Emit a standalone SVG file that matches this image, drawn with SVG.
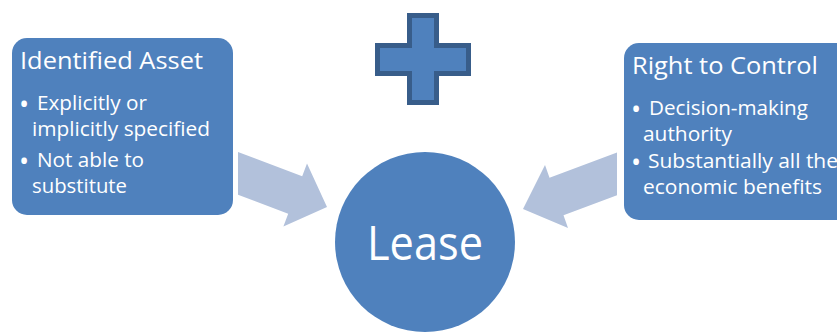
<svg xmlns="http://www.w3.org/2000/svg" width="837" height="335" viewBox="0 0 837 335">
<style>
.box{fill:#4f81bd;}
.arrow{fill:#b2c1db;}
.t{font-family:"Open Sans","Liberation Sans",sans-serif;fill:#ffffff;}
.title{font-size:23px;}
.bul{font-size:20.5px;}
.dot{font-size:27px;}
</style>
<rect width="837" height="335" fill="#ffffff"/>
<g id="connectors">
<polygon class="arrow" points="238,152 302.2,176.3 307,163.6 327,207 283.4,226.4 288.2,213.7 238,194.8"/>
<polygon class="arrow" points="617,152.6 549.5,177.8 545,165 523,209 568,228 563.5,215.2 617,195.2"/>
</g>
<g id="plus">
<path d="M409.5,15.5 H436.5 V45.5 H468.5 V73.5 H436.5 V102.5 H409.5 V73.5 H377.5 V45.5 H409.5 Z" fill="#4f81bd" stroke="#385d8a" stroke-width="5"/>
</g>
<g id="identified-asset">
<rect class="box" x="12" y="38" width="221" height="177" rx="15"/>
<text class="t title" x="20" y="69" textLength="183" lengthAdjust="spacingAndGlyphs">Identified Asset</text>
<text class="t dot" x="19" y="114">•</text>
<text class="t bul" x="37" y="110" textLength="110" lengthAdjust="spacingAndGlyphs">Explicitly or</text>
<text class="t bul" x="32" y="136" textLength="178" lengthAdjust="spacingAndGlyphs">implicitly specified</text>
<text class="t dot" x="19" y="171">•</text>
<text class="t bul" x="37" y="167" textLength="107" lengthAdjust="spacingAndGlyphs">Not able to</text>
<text class="t bul" x="32" y="193" textLength="95" lengthAdjust="spacingAndGlyphs">substitute</text>
</g>
<g id="right-to-control">
<rect class="box" x="624" y="43" width="230" height="177" rx="15"/>
<text class="t title" x="632" y="74" textLength="186" lengthAdjust="spacingAndGlyphs">Right to Control</text>
<text class="t dot" x="631" y="119">•</text>
<text class="t bul" x="649" y="115" textLength="159" lengthAdjust="spacingAndGlyphs">Decision-making</text>
<text class="t bul" x="643" y="141" textLength="89" lengthAdjust="spacingAndGlyphs">authority</text>
<text class="t dot" x="631" y="172">•</text>
<text class="t bul" x="648" y="168" textLength="190" lengthAdjust="spacingAndGlyphs">Substantially all the</text>
<text class="t bul" x="643" y="194" textLength="179" lengthAdjust="spacingAndGlyphs">economic benefits</text>
</g>
<g id="lease">
<circle class="box" cx="425" cy="242" r="90"/>
<text class="t" x="367" y="260" font-size="47" textLength="116" lengthAdjust="spacingAndGlyphs">Lease</text>
</g>
</svg>
